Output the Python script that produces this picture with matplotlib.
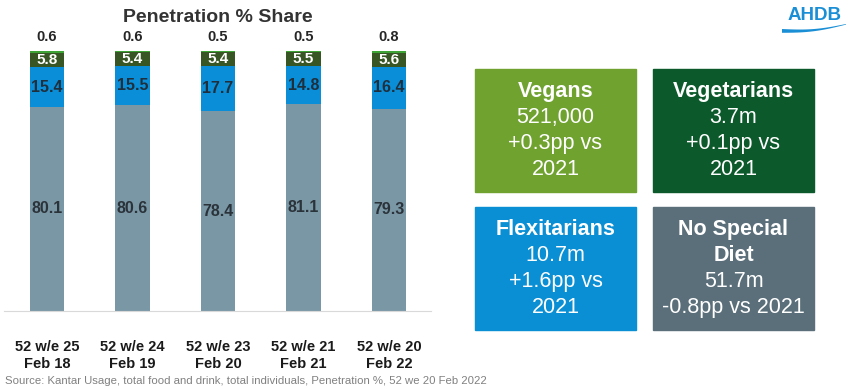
import numpy as np
import matplotlib
matplotlib.use('Agg')
import matplotlib.pyplot as plt
from matplotlib.patches import Rectangle, Polygon

plt.rcParams['font.family'] = ['Liberation Sans', 'DejaVu Sans']

periods = ['52 w/e 25\nFeb 18', '52 w/e 24\nFeb 19', '52 w/e 23\nFeb 20',
           '52 w/e 21\nFeb 21', '52 w/e 20\nFeb 22']
no_special = [80.1, 80.6, 78.4, 81.1, 79.3]
flexitarian = [15.4, 15.5, 17.7, 14.8, 16.4]
vegetarian = [5.8, 5.4, 5.4, 5.5, 5.6]
vegan = [0.6, 0.6, 0.5, 0.5, 0.8]

box_titles = ['Vegans', 'Vegetarians', 'Flexitarians', 'No Special\nDiet']
box_texts = ['521,000\n+0.3pp vs\n2021', '3.7m\n+0.1pp vs\n2021',
             '10.7m\n+1.6pp vs\n2021', '51.7m\n-0.8pp vs 2021']

c_gray = '#7a97a6'
c_blue = '#0a8ed8'
c_dgreen = '#375623'
c_lgreen = '#3da435'
box_colors = ['#6fa22f', '#0c5a2b', '#0a8fd5', '#5b6f7b']

W, H = 850, 390
fig = plt.figure(figsize=(8.5, 3.9), dpi=100)

ax = fig.add_axes([4 / W, 79 / H, 427 / W, 110 * 2.55 / H])
x = np.arange(len(periods))
bw = 0.4
b1 = np.array(no_special)
b2 = b1 + np.array(flexitarian)
b3 = b2 + np.array(vegetarian)
ax.bar(x, no_special, bw, color=c_gray)
ax.bar(x, flexitarian, bw, bottom=b1, color=c_blue)
ax.bar(x, vegetarian, bw, bottom=b2, color=c_dgreen)
ax.bar(x, vegan, bw, bottom=b3, color=c_lgreen)

for i in range(len(x)):
    ax.text(x[i], no_special[i] / 2, f'{no_special[i]:.1f}', ha='center', va='center',
            fontsize=11.5, fontweight='bold', color='#2b333a')
    ax.text(x[i], b1[i] + flexitarian[i] / 2, f'{flexitarian[i]:.1f}', ha='center', va='center',
            fontsize=11.5, fontweight='bold', color='#1f2f3c')
    ax.text(x[i], b2[i] + vegetarian[i] / 2, f'{vegetarian[i]:.1f}', ha='center', va='center',
            fontsize=11, fontweight='bold', color='white')
    ax.annotate(f'{vegan[i]:.1f}', (x[i], b3[i] + vegan[i]), xytext=(0, 5),
                textcoords='offset points', ha='center', va='bottom',
                fontsize=10.5, fontweight='bold', color='#262626')

ax.set_xlim(-0.503, 4.491)
ax.set_ylim(0, 110)
ax.set_xticks(x)
ax.set_xticklabels(periods, fontsize=10.5, fontweight='bold', color='#1a1a1a', linespacing=1.25)
ax.tick_params(axis='x', length=0, pad=21)
ax.set_yticks([])
for s in ['top', 'right', 'left']:
    ax.spines[s].set_visible(False)
ax.spines['bottom'].set_color('#d9d9d9')

fig.text(218 / W, 1 - 18 / H, 'Penetration % Share', ha='center', va='center',
         fontsize=14, fontweight='bold', color='#333333')

fig.text(5 / W, 1 - 381 / H, 'Source: Kantar Usage, total food and drink, total individuals, '
         'Penetration %, 52 we 20 Feb 2022', ha='left', va='center', fontsize=8.2, color='#808080')

# info boxes
box_pos = [(475, 69), (653, 69), (475, 207), (653, 207)]
bwid, bhgt = 161, 123
for (bx, by), col, ttl, txt in zip(box_pos, box_colors, box_titles, box_texts):
    fig.patches.append(Rectangle((bx / W, 1 - (by + bhgt) / H), bwid / W, bhgt / H,
                                 transform=fig.transFigure, color=col))
    nt = ttl.count('\n') + 1
    nx = txt.count('\n') + 1
    lh = 25.7
    top = by + bhgt / 2 - (nt + nx) * lh / 2
    for k, line in enumerate(ttl.split('\n')):
        fig.text((bx + bwid / 2) / W, 1 - (top + lh * (k + 0.5)) / H, line, ha='center',
                 va='center', fontsize=15.5, fontweight='bold', color='white')
    for k, line in enumerate(txt.split('\n')):
        fig.text((bx + bwid / 2) / W, 1 - (top + lh * (nt + k + 0.5)) / H, line, ha='center',
                 va='center', fontsize=15.5, color='white')

# AHDB logo
fig.text(815 / W, 1 - 16 / H, 'AHDB', ha='center', va='center', fontsize=13.5,
         fontweight='bold', color='#1b8fd6')
t = np.linspace(0, 1, 60)
wx = 782 + 64 * t
upper = 29 + 2.5 * np.sin(np.pi * t) - 5 * t
lower = upper + 3.2 * (1 - t) + 0.6
pts = np.column_stack([np.concatenate([wx, wx[::-1]]) / W,
                       1 - np.concatenate([upper, lower[::-1]]) / H])
fig.patches.append(Polygon(pts, closed=True, transform=fig.transFigure,
                           color='#1b8fd6', lw=0))

fig.savefig('out.png', dpi=100)
